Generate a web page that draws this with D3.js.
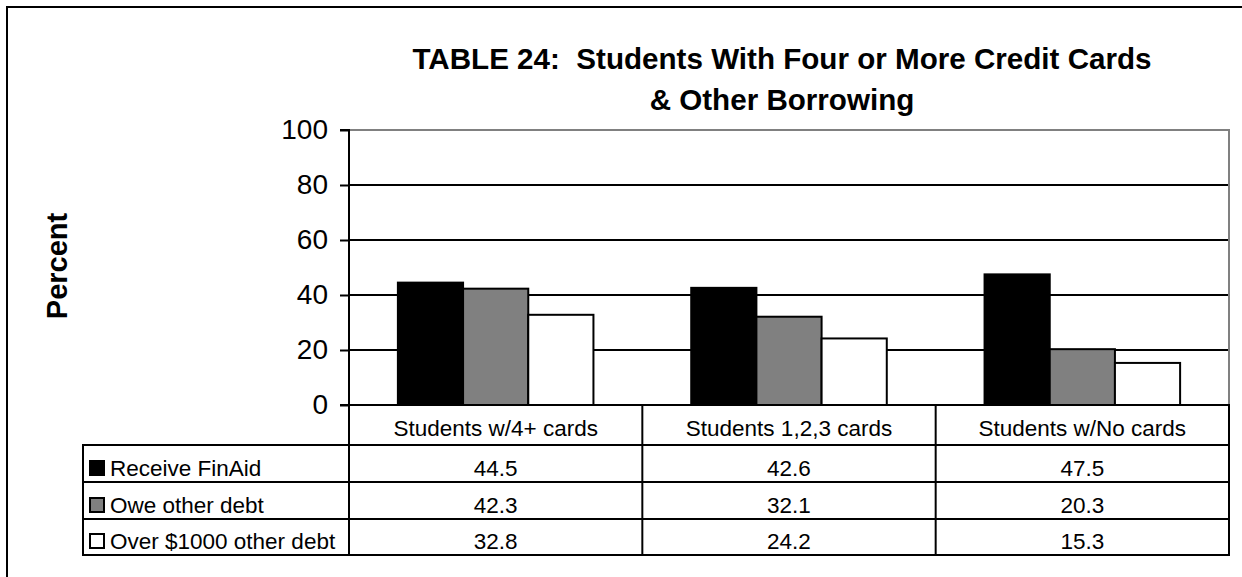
<!DOCTYPE html>
<html><head><meta charset="utf-8">
<script src="https://cdn.jsdelivr.net/npm/d3@7"></script>
<style>
html,body{margin:0;padding:0;background:#fff;}
svg{display:block;font-family:Arial,"Liberation Sans",sans-serif;}
</style></head>
<body>
<svg id="chart" width="1242" height="577"></svg>
<script>
const categories = ["Students w/4+ cards", "Students 1,2,3 cards", "Students w/No cards"];
const seriesNames = ["Receive FinAid", "Owe other debt", "Over $1000 other debt"];
const receiveFinAid = [44.5, 42.6, 47.5];
const oweOtherDebt = [42.3, 32.1, 20.3];
const over1000Debt = [32.8, 24.2, 15.3];
const yTicks = [0, 20, 40, 60, 80, 100];
const seriesColors = ["#000000", "#808080", "#ffffff"];
const titleLines = ["TABLE 24:  Students With Four or More Credit Cards", "& Other Borrowing"];
const yAxisTitle = "Percent";

const series = [receiveFinAid, oweOtherDebt, over1000Debt];

const svg = d3.select("#chart");
const plot = {left: 349, right: 1229, top: 130, bottom: 405};
const tableLeft = 83;
const rowBounds = [405, 445, 482, 519, 555];
const tableFont = 22.5;

// outer frame
svg.append("path").attr("d", "M7,577 V7 H1242").attr("fill", "none").attr("stroke", "#000").attr("stroke-width", 2);

const x = d3.scaleBand().domain(categories).range([plot.left, plot.right]).paddingInner(0).paddingOuter(0);
const groupW = x.bandwidth() / 1.5;
const xs = d3.scaleBand().domain(seriesNames).range([0, groupW]).padding(0);
const y = d3.scaleLinear().domain([0, 100]).range([plot.bottom, plot.top]);

// gridlines
svg.append("g").selectAll("line").data(yTicks.filter(t => t > 0 && t < 100)).join("line")
  .attr("x1", plot.left).attr("x2", plot.right)
  .attr("y1", d => y(d)).attr("y2", d => y(d))
  .attr("stroke", "#000").attr("stroke-width", 2);
// plot border top/right gray
svg.append("path").attr("d", `M${plot.left},${y(100)} H${plot.right} V${plot.bottom}`)
  .attr("fill", "none").attr("stroke", "#808080").attr("stroke-width", 2);

// bars
const groups = svg.append("g").selectAll("g").data(categories).join("g")
  .attr("transform", (d) => `translate(${x(d) + (x.bandwidth() - groupW) / 2},0)`);
groups.selectAll("rect").data((c, i) => series.map((s, k) => ({name: seriesNames[k], v: s[i], k})))
  .join("rect")
  .attr("x", d => xs(d.name)).attr("width", xs.bandwidth())
  .attr("y", d => y(d.v)).attr("height", d => y(0) - y(d.v))
  .attr("fill", d => seriesColors[d.k]).attr("stroke", "#000").attr("stroke-width", 2);

// y axis
const yAxis = d3.axisLeft(y).tickValues(yTicks).tickSize(9).tickPadding(12).tickFormat(d3.format("d"));
const ga = svg.append("g").attr("transform", `translate(${plot.left},0)`).call(yAxis);
ga.select(".domain").attr("stroke", "#000").attr("stroke-width", 2).attr("d", `M-9,${y(100)}H0V${y(0)}H-9`);
ga.selectAll(".tick line").attr("stroke", "#000").attr("stroke-width", 2);
ga.selectAll(".tick text").attr("font-size", 28).attr("fill", "#000").attr("font-family", "Arial, Liberation Sans, sans-serif");

// table
const tbl = svg.append("g");
const lineAttrs = s => s.attr("stroke", "#000").attr("stroke-width", 2);
rowBounds.forEach((yy, i) => {
  lineAttrs(tbl.append("line").attr("x1", i === 0 ? plot.left : tableLeft - 1).attr("x2", plot.right + 1).attr("y1", yy).attr("y2", yy));
});
lineAttrs(tbl.append("line").attr("x1", tableLeft).attr("x2", tableLeft).attr("y1", rowBounds[1]).attr("y2", rowBounds[4]));
const colEdges = categories.map(c => x(c)).concat([plot.right]);
colEdges.forEach(cx => lineAttrs(tbl.append("line").attr("x1", cx).attr("x2", cx).attr("y1", rowBounds[0]).attr("y2", rowBounds[4])));

// header text
tbl.selectAll("text.hdr").data(categories).join("text").attr("class", "hdr")
  .attr("x", d => x(d) + x.bandwidth() / 2).attr("y", rowBounds[1] - 9)
  .attr("text-anchor", "middle").attr("font-size", tableFont).text(d => d);

// values and legend rows
series.forEach((s, k) => {
  const yb = rowBounds[k + 2] - 6;
  tbl.append("rect").attr("x", tableLeft + 7).attr("y", yb - 15).attr("width", 14).attr("height", 14)
    .attr("fill", seriesColors[k]).attr("stroke", "#000").attr("stroke-width", 2);
  tbl.append("text").attr("x", tableLeft + 27).attr("y", yb)
    .attr("font-size", tableFont).text(seriesNames[k]);
  tbl.selectAll(null).data(categories).join("text")
    .attr("x", (d) => x(d) + x.bandwidth() / 2).attr("y", yb)
    .attr("text-anchor", "middle").attr("font-size", tableFont)
    .text((d, i) => s[i].toFixed(1));
});

// title
svg.append("g").selectAll("text").data(titleLines).join("text")
  .attr("x", 782).attr("y", (d, i) => 69 + i * 41)
  .style("white-space", "pre")
  .attr("text-anchor", "middle").attr("font-weight", "bold").attr("font-size", 29.6).text(d => d);

// y axis title
svg.append("text").attr("transform", "translate(67,266) rotate(-90)")
  .attr("text-anchor", "middle").attr("font-weight", "bold").attr("font-size", 29).text(yAxisTitle);
</script>
</body></html>
